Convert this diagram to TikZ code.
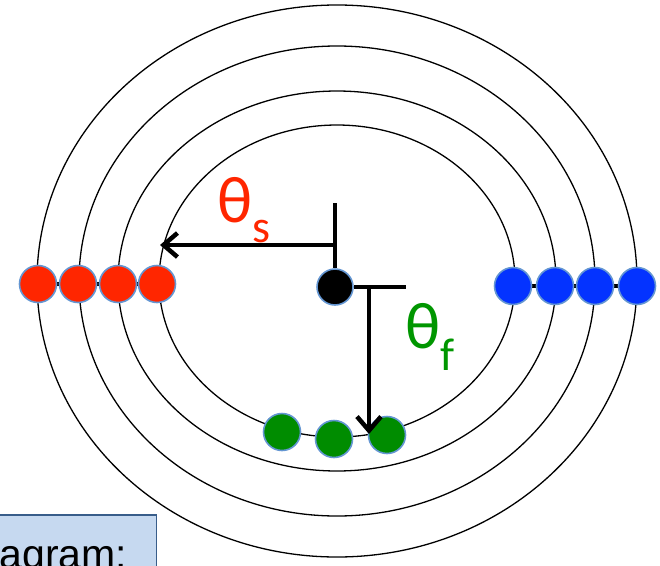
\documentclass[tikz,border=0pt]{standalone}
\usepackage{fontspec}
\setmainfont{Carlito}
\newfontfamily\keyfont{Liberation Sans}
\usetikzlibrary{arrows.meta, positioning, backgrounds}
\definecolor{DotRed}{RGB}{255, 38, 0}
\definecolor{DotBlue}{RGB}{4, 51, 255}
\definecolor{DotGreen}{RGB}{0, 140, 0}
\definecolor{DotEdge}{RGB}{100, 150, 210}
\definecolor{LabelGreen}{RGB}{0, 150, 0}
\definecolor{KeyFill}{RGB}{198, 217, 240}
\definecolor{KeyEdge}{RGB}{56, 93, 138}

\begin{document}
\begin{tikzpicture}[
        x = 1pt, y = -1pt,
        orbit/.style = {
            draw,
            line width = 1.3pt
        },
        bead/.style = {
            circle,
            draw = DotEdge,
            line width = 1.6pt,
            minimum size = 37pt,
            inner sep = 0pt
        },
        bar/.style = {
            line width = 4.5pt
        },
        angarr/.style = {
            -{Straight Barb[length = 14pt, width = 24pt]},
            line width = 4.5pt
        },
        lbl/.style = {
            anchor = base west,
            inner sep = 0pt,
            font = \fontsize{66}{66}\selectfont
        },
        keybox/.style = {
            draw = KeyEdge,
            fill = KeyFill,
            line width = 1.5pt,
            anchor = base east,
            inner xsep = 29pt,
            inner ysep = 0pt,
            text height = 53pt,
            text depth = 40pt,
            font = \keyfont\fontsize{41}{41}\selectfont
        }
    ]
        \useasboundingbox (0, 0) rectangle (660, 565);
        \clip (0, 0) rectangle (660, 565);

        \coordinate (c) at (337, 281);
        \foreach \rx/\ry in {178/156, 219/190, 258/235, 300/276}
            \draw[orbit] (c) ellipse [x radius = \rx, y radius = \ry];

        \node[bead, fill = DotRed] (r1) at (38, 284) {};
        \node[bead, fill = DotRed] (r2) at (78, 284) {};
        \node[bead, fill = DotRed] (r3) at (118, 284) {};
        \node[bead, fill = DotRed] (r4) at (157, 284) {};

        \node[bead, fill = DotBlue] (b1) at (513, 286) {};
        \node[bead, fill = DotBlue] (b2) at (555, 286) {};
        \node[bead, fill = DotBlue] (b3) at (595, 286) {};
        \node[bead, fill = DotBlue] (b4) at (637, 286) {};

        \node[bead, fill = DotGreen] (g1) at (282, 432) {};
        \node[bead, fill = DotGreen] (g2) at (334, 439) {};
        \node[bead, fill = DotGreen] (g3) at (387, 435) {};

        \begin{scope}[on background layer]
            \draw[line width = 4pt] (r1) -- (r4);
            \draw[line width = 4pt] (b1) -- (b4);
        \end{scope}

        \node[bead, fill = black, minimum size = 36pt] (hub) at (335, 287) {};

        \coordinate (sTop) at (335, 203);
        \coordinate (sKnee) at (335, 245);
        \coordinate (sTip) at (160, 245);
        \draw[bar] (sTop) -- (hub);
        \draw[angarr] (sKnee) -- (sTip);

        \coordinate (fEnd) at (406, 287);
        \coordinate (fKnee) at (369, 287);
        \coordinate (fTip) at (369, 434);
        \draw[bar] (hub) -- (fEnd);
        \draw[angarr] (fKnee) -- (fTip);

        \node[lbl, text = DotRed] (thetaS) at (217, 222) {θ\raisebox{-20pt}{\fontsize{46}{46}\selectfont s}};
        \node[lbl, text = LabelGreen] (thetaF) at (405, 348) {θ\raisebox{-22pt}{\fontsize{46}{46}\selectfont f}};

        \node[keybox] (key) at (157, 568) {agram:};
    \end{tikzpicture}
\end{document}
